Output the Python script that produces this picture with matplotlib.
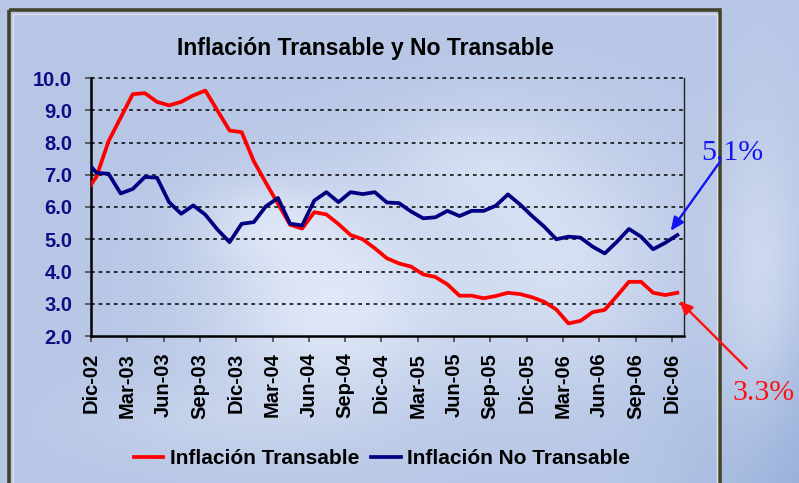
import numpy as np
import matplotlib
matplotlib.use("Agg")
import matplotlib.pyplot as plt
from matplotlib.patches import Rectangle

# ---------------- data ----------------
months = ["Nov-02", "Dic-02", "Ene-03", "Feb-03", "Mar-03", "Abr-03", "May-03", "Jun-03",
          "Jul-03", "Ago-03", "Sep-03", "Oct-03", "Nov-03", "Dic-03", "Ene-04", "Feb-04",
          "Mar-04", "Abr-04", "May-04", "Jun-04", "Jul-04", "Ago-04", "Sep-04", "Oct-04",
          "Nov-04", "Dic-04", "Ene-05", "Feb-05", "Mar-05", "Abr-05", "May-05", "Jun-05",
          "Jul-05", "Ago-05", "Sep-05", "Oct-05", "Nov-05", "Dic-05", "Ene-06", "Feb-06",
          "Mar-06", "Abr-06", "May-06", "Jun-06", "Jul-06", "Ago-06", "Sep-06", "Oct-06",
          "Nov-06", "Dic-06"]

transable = [6.39, 6.94, 8.04, 8.77, 9.50, 9.53, 9.26, 9.15, 9.26, 9.46,
             9.61, 8.99, 8.37, 8.32, 7.42, 6.75, 6.10, 5.45, 5.33, 5.84,
             5.77, 5.47, 5.13, 5.00, 4.72, 4.41, 4.25, 4.15, 3.91, 3.83,
             3.60, 3.25, 3.25, 3.17, 3.24, 3.34, 3.30, 3.20, 3.06, 2.82,
             2.39, 2.47, 2.74, 2.81, 3.24, 3.68, 3.68, 3.34, 3.27, 3.34]

no_transable = [7.49, 7.06, 7.03, 6.42, 6.56, 6.93, 6.91, 6.15, 5.79, 6.05,
                5.76, 5.30, 4.91, 5.48, 5.53, 6.02, 6.28, 5.48, 5.43, 6.20,
                6.46, 6.15, 6.46, 6.40, 6.46, 6.14, 6.12, 5.86, 5.65, 5.68,
                5.88, 5.72, 5.88, 5.88, 6.04, 6.39, 6.08, 5.72, 5.39, 5.00,
                5.08, 5.05, 4.77, 4.56, 4.92, 5.32, 5.08, 4.69, 4.89, 5.13]

tick_labels = ["Dic-02", "Mar-03", "Jun-03", "Sep-03", "Dic-03", "Mar-04", "Jun-04",
               "Sep-04", "Dic-04", "Mar-05", "Jun-05", "Sep-05", "Dic-05", "Mar-06",
               "Jun-06", "Sep-06", "Dic-06"]
y_ticks = [2.0, 3.0, 4.0, 5.0, 6.0, 7.0, 8.0, 9.0, 10.0]

title = "Inflación Transable y No Transable"
series_names = ["Inflación Transable", "Inflación No Transable"]

# ---------------- figure ----------------
W, H = 799, 483
fig = plt.figure(figsize=(W / 100, H / 100), dpi=100)

# background (soft sky-like gradient)
yy, xx = np.mgrid[0:H, 0:W]
base = np.array([0.72, 0.78, 0.90])
white = np.array([0.93, 0.95, 0.99])
img = np.ones((H, W, 3)) * base
def blob(cx, cy, sx, sy, a):
    return a * np.exp(-(((xx - cx) / sx) ** 2 + ((yy - cy) / sy) ** 2))
m = (blob(330, 300, 120, 110, 0.75) + blob(560, 260, 110, 120, 0.55)
     + blob(470, 160, 90, 60, 0.35) + blob(260, 220, 70, 40, 0.35)
     + blob(760, 300, 40, 160, 0.5) + blob(200, 420, 120, 40, 0.2))
m = np.clip(m, 0, 1)[..., None]
img = img * (1 - m) + white * m
dark = np.clip(blob(820, 520, 120, 180, 0.6), 0, 1)[..., None]
img = img * (1 - dark) + np.array([0.50, 0.62, 0.82]) * dark
bg = fig.add_axes([0, 0, 1, 1], zorder=-10)
bg.imshow(img, extent=[0, W, H, 0], aspect="auto")
bg.set_xlim(0, W)
bg.set_ylim(H, 0)
bg.axis("off")

# chart frame
bg.add_patch(Rectangle((9, 10), 711, 480, fill=False, edgecolor="#44442a", lw=2.6))
bg.add_patch(Rectangle((12.5, 13.5), 704, 475, fill=False, edgecolor="#dfe3e6", lw=1.0))

# main axes
ax = fig.add_axes([91 / W, 1 - 336 / H, (684 - 91) / W, (336 - 78) / H])
ax.patch.set_alpha(0)

x = np.arange(len(months)) - 1 + 0.45
ax.plot(x, transable, color="#ff0000", lw=2.7, solid_joinstyle="round", label=series_names[0], zorder=3)
ax.plot(x, no_transable, color="#000080", lw=2.7, solid_joinstyle="round", label=series_names[1], zorder=3)

ax.set_xlim(0, 49)
ax.set_ylim(2, 10)
ax.set_yticks(y_ticks)
ax.set_yticklabels([f"{v:.1f}" for v in y_ticks], color="#0d0d85",
                   fontsize=14.5, fontweight="bold", family="Liberation Sans")
ax.set_xticks(np.arange(0, 49, 3))
ax.set_xticklabels(tick_labels, rotation=90, fontsize=14.5, fontweight="bold",
                   family="Liberation Sans", color="black")
ax.tick_params(axis="x", direction="out", length=4.5, width=1.3, color="#555555", pad=7.5)
ax.tick_params(axis="y", direction="out", length=4.5, width=1.3, color="#555555", pad=9)

for yv in y_ticks[1:]:
    ax.axhline(yv, color="black", lw=1.1, dashes=(2.4, 2.6), zorder=1, clip_on=False)

ax.spines["left"].set_linewidth(1.8)
ax.spines["bottom"].set_linewidth(1.8)
ax.spines["top"].set_visible(False)
ax.spines["right"].set_linewidth(1.0)
ax.spines["right"].set_color("#222222")

fig.text(365 / W, 1 - 49 / H, title, ha="center", va="center", fontsize=16.6,
         fontweight="bold", family="Liberation Sans", color="black")

leg = fig.legend(loc="center", bbox_to_anchor=(382 / W, 1 - 459 / H), ncol=2, frameon=False,
                 prop={"family": "Liberation Sans", "weight": "bold", "size": 15},
                 handlelength=1.4, handletextpad=0.3, columnspacing=0.6)

# annotations
fig.text(732 / W, 1 - 153 / H, "5.1%", color="#1414f0", fontsize=21.5, family="Liberation Serif",
         ha="center", va="center")
fig.text(764 / W, 1 - 393 / H, "3.3%", color="#ff1010", fontsize=21.5, family="Liberation Serif",
         ha="center", va="center")
ax.annotate("", xy=(47.9, 5.26), xycoords="data",
            xytext=(720 / W, 1 - 161.7 / H), textcoords="figure fraction",
            arrowprops=dict(arrowstyle="-|>,head_length=0.8,head_width=0.35", color="#1414f0",
                            lw=1.7, shrinkA=0, shrinkB=0), annotation_clip=False)
ax.annotate("", xy=(48.6, 3.09), xycoords="data",
            xytext=(746.7 / W, 1 - 368.3 / H), textcoords="figure fraction",
            arrowprops=dict(arrowstyle="-|>,head_length=0.8,head_width=0.35", color="#ff1010",
                            lw=1.7, shrinkA=0, shrinkB=0), annotation_clip=False)

fig.savefig("out.png", dpi=100)
